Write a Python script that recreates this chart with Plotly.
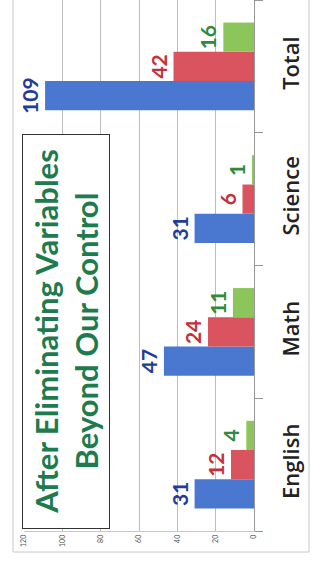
import plotly.graph_objects as go

categories = ["English", "Math", "Science", "Total"]
series_names = ["Blue", "Red", "Green"]
blue_values = [31, 47, 31, 109]
red_values = [12, 24, 6, 42]
green_values = [4, 11, 1, 16]
tick_values = [0, 20, 40, 60, 80, 100, 120]
title_text = "After Eliminating Variables<br>Beyond Our Control"

bar_colors = ["#4a78d0", "#d9545f", "#8cc65a"]
label_colors = ["#1f3d99", "#c3303d", "#2f8a3e"]

W, H = 313, 563
L, R, T, B = 24, 59, 0, 32
pw, ph = W - L - R, H - T - B

def px_x(x):
    return (x - L) / pw

def px_y(y):
    return (H - B - y) / ph

fig = go.Figure()
for name, vals, col, lcol in zip(series_names, [blue_values, red_values, green_values], bar_colors, label_colors):
    fig.add_trace(go.Bar(
        name=name, y=categories, x=vals, orientation="h",
        marker=dict(color=col, line=dict(width=0)),
        text=[str(v) for v in vals], textposition="outside", textangle=-90,
        textfont=dict(family="Lato", size=21, color=lcol, weight="bold"),
        constraintext="none", cliponaxis=False,
    ))

fig.update_layout(
    width=W, height=H,
    margin=dict(l=L, r=R, t=T, b=B, autoexpand=False),
    paper_bgcolor="white", plot_bgcolor="white",
    barmode="group", bargap=0.34, bargroupgap=0,
    showlegend=False,
    xaxis=dict(range=[120, 0], tickvals=tick_values, tickangle=-90, automargin=False,
               tickfont=dict(family="Lato", size=7, color="#555"),
               showgrid=True, gridcolor="#bdbdbd", gridwidth=1,
               zeroline=False, showline=True, linecolor="#c8c8c8", ticks=""),
    yaxis=dict(categoryorder="array", categoryarray=categories, side="right", automargin=False,
               tickangle=-90, tickfont=dict(family="Open Sans", size=22, color="#222", weight=600),
               ticks="outside", ticklen=8, tickcolor="#999", tickson="boundaries",
               ticklabelstandoff=18,
               showline=True, linecolor="#999", showgrid=False, zeroline=False),
    annotations=[dict(
        xref="paper", yref="paper", x=px_x(66), y=px_y(332),
        xanchor="center", yanchor="middle", showarrow=False,
        text=title_text, textangle=-90,
        font=dict(family="Lato", size=31, color="#1e7b4d", weight="bold"),
        bordercolor="#333", borderwidth=1, borderpad=0, bgcolor="white",
        width=393, height=86,
    )],
    shapes=[
        dict(type="line", xref="paper", yref="paper", x0=px_x(13), x1=px_x(13), y0=px_y(0), y1=px_y(552),
             line=dict(color="#c8c8c8", width=1)),
        dict(type="line", xref="paper", yref="paper", x0=px_x(13), x1=px_x(309), y0=px_y(552), y1=px_y(552),
             line=dict(color="#c8c8c8", width=1)),
        dict(type="line", xref="paper", yref="paper", x0=px_x(309), x1=px_x(309), y0=px_y(0), y1=px_y(552),
             line=dict(color="#c8c8c8", width=1)),
    ],
)

fig.write_html("out.html", config={"displayModeBar": False},
               post_script="document.body.style.margin='0';document.body.style.overflow='hidden';")
